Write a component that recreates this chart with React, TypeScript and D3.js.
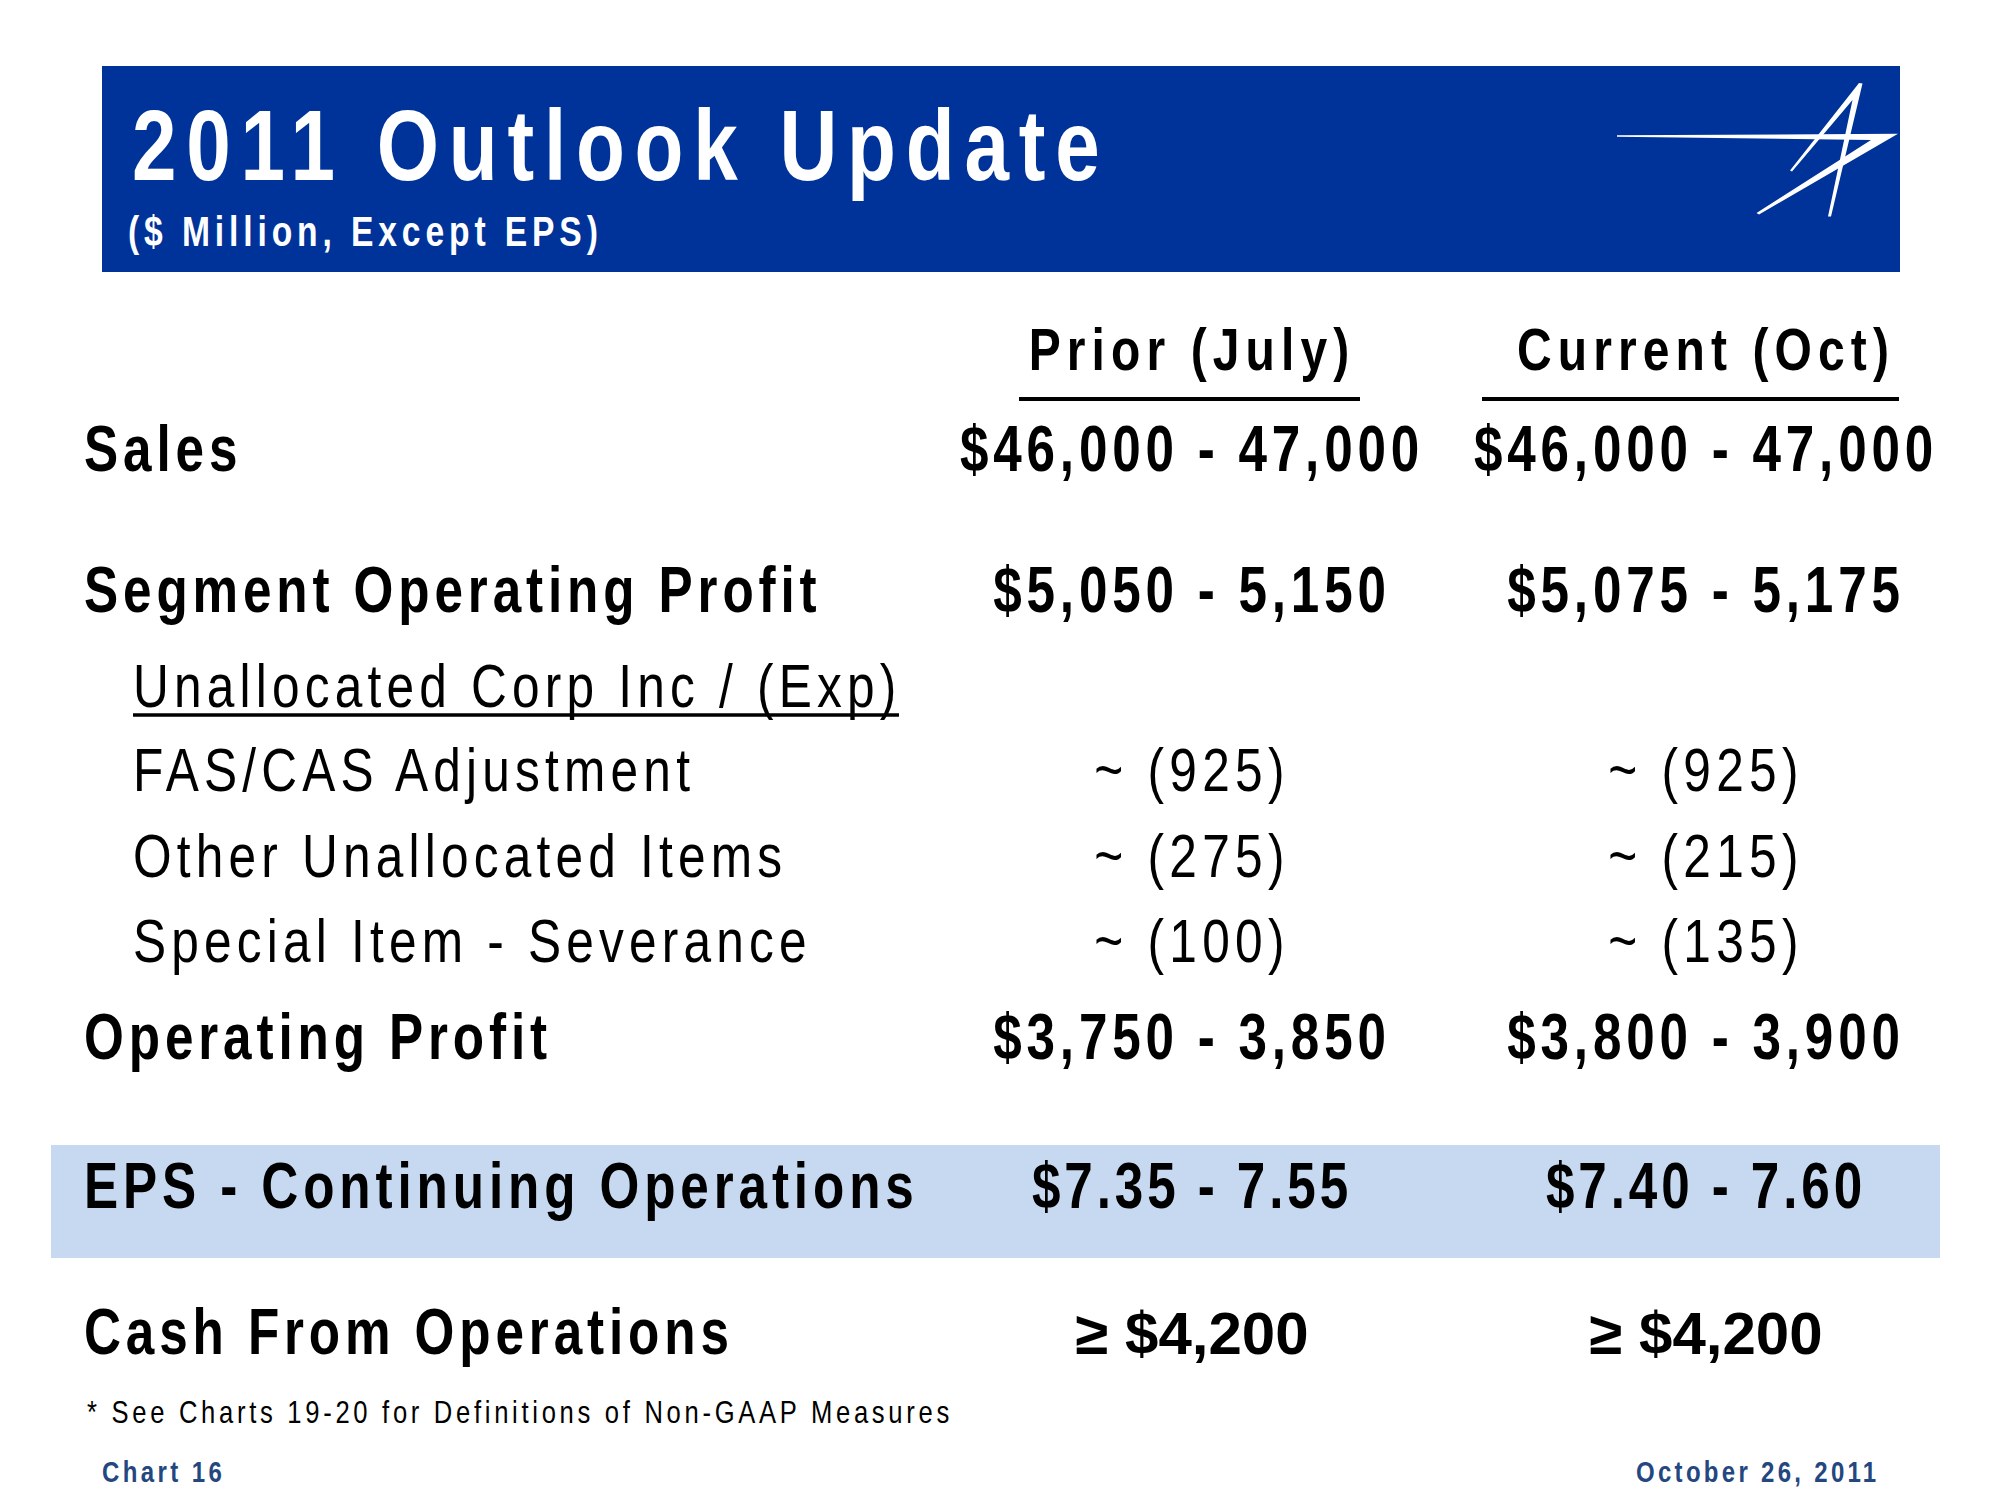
import React from 'react';
import * as d3 from 'd3';

// Slide content
const titleText = '2011 Outlook Update';
const subtitleText = '($ Million, Except EPS)';
const columnHeaders = ['Prior (July)', 'Current (Oct)'];
const rowLabels = [
  'Sales',
  'Segment Operating Profit',
  'Unallocated Corp Inc / (Exp)',
  'FAS/CAS Adjustment',
  'Other Unallocated Items',
  'Special Item - Severance',
  'Operating Profit',
  'EPS - Continuing Operations',
  'Cash From Operations',
];
const rowKinds = ['main', 'main', 'subhead', 'sub', 'sub', 'sub', 'main', 'eps', 'cash'];
const priorValues = ['$46,000 - 47,000', '$5,050 - 5,150', '', '~ (925)', '~ (275)', '~ (100)', '$3,750 - 3,850', '$7.35 - 7.55', '≥ $4,200'];
const currentValues = ['$46,000 - 47,000', '$5,075 - 5,175', '', '~ (925)', '~ (215)', '~ (135)', '$3,800 - 3,900', '$7.40 - 7.60', '≥ $4,200'];
const footnote = '* See Charts 19-20 for Definitions of Non-GAAP Measures';
const chartNumber = 'Chart 16';
const dateText = 'October 26, 2011';

const W = 2000;
const H = 1500;
const FONT = "'Liberation Sans', Arial, Helvetica, sans-serif";
const NARROW = 0.8; // synthetic "narrow" face
const BLUE = '#003399';
const BAND = '#c6d9f1';
const FOOT_BLUE = '#24477f';

// row baselines (layout)
const yRow = d3.scaleOrdinal<string, number>()
  .domain(rowLabels)
  .range([471, 612, 707, 791, 877, 962, 1059, 1208, 1354]);

const xCol = d3.scalePoint<string>()
  .domain(columnHeaders)
  .range([1192, 1706]);

type NTProps = {
  x: number; y: number; text: string; size: number; bold?: boolean;
  spacing?: number; anchor?: string; fill?: string; sx?: number;
};

// text drawn in a horizontally condensed Liberation Sans with tracking
const NarrowText = ({ x, y, text, size, bold = true, spacing = 4, anchor = 'start', fill = '#000', sx = NARROW }: NTProps) => (
  <g transform={`translate(${x},${y}) scale(${sx},1)`}>
    <text
      fontFamily={FONT}
      fontSize={size}
      fontWeight={bold ? 'bold' : 'normal'}
      letterSpacing={spacing / sx}
      textAnchor={anchor}
      fill={fill}
    >
      {text}
    </text>
  </g>
);

const valueStyle = (kind: string) => {
  if (kind === 'sub') return { size: 62, bold: false, spacing: 5.3, sx: NARROW };
  if (kind === 'eps') return { size: 64, bold: true, spacing: 3.9, sx: NARROW };
  if (kind === 'cash') return { size: 60, bold: true, spacing: 0, sx: 1 };
  return { size: 64, bold: true, spacing: 4.8, sx: NARROW };
};

export default function App() {
  const bandY = yRow('EPS - Continuing Operations');
  return (
    <svg width={W} height={H} style={{ position: 'absolute', left: 0, top: 0, background: '#fff' }}>
      <rect width={W} height={H} fill="#fff" />

      {/* header */}
      <rect x={102} y={66} width={1798} height={206} fill={BLUE} />
      <NarrowText x={132} y={180} text={titleText} size={100} spacing={9.8} fill="#fff" />
      <NarrowText x={128} y={246} text={subtitleText} size={42} spacing={4.9} fill="#fff" />

      {/* logo */}
      <g fill="#fff">
        <path d="M1617,135.3 L1898,133.8 L1759,214.5 L1756.5,213 L1871,140 L1617,136.8 Z" />
        <path d="M1790,170.5 L1859,83 L1862.5,83.5 L1831,216.5 L1828,216.5 L1852.5,100 L1792,171.5 Z" />
      </g>

      {/* EPS band */}
      <rect x={51} y={bandY - 63} width={1889} height={113} fill={BAND} />

      {/* column headers */}
      {columnHeaders.map((h) => (
        <NarrowText key={h} x={xCol(h)!} y={370} text={h} size={60} spacing={6.1} anchor="middle" />
      ))}
      <line x1={1019} x2={1360} y1={399} y2={399} stroke="#000" strokeWidth={4} />
      <line x1={1482} x2={1899} y1={399} y2={399} stroke="#000" strokeWidth={4} />

      {/* rows */}
      {rowLabels.map((label, i) => {
        const kind = rowKinds[i];
        const y = yRow(label);
        const isSub = kind === 'sub' || kind === 'subhead';
        const vs = valueStyle(kind);
        return (
          <g key={label}>
            <NarrowText
              x={isSub ? 133 : 84}
              y={y}
              text={label}
              size={isSub ? 62 : 64}
              bold={!isSub}
              spacing={isSub ? 5.2 : 4.9}
            />
            {kind === 'subhead' && (
              <line x1={133} x2={899} y1={y + 8} y2={y + 8} stroke="#000" strokeWidth={3.5} />
            )}
            {[priorValues[i], currentValues[i]].map((v, j) => v ? (
              <NarrowText
                key={j}
                x={xCol(columnHeaders[j])!}
                y={y}
                text={v}
                size={vs.size}
                bold={vs.bold}
                spacing={vs.spacing}
                sx={vs.sx}
                anchor="middle"
              />
            ) : null)}
          </g>
        );
      })}

      {/* footer */}
      <NarrowText x={87} y={1423} text={footnote} size={32} bold={false} spacing={3.7} />
      <NarrowText x={102} y={1482} text={chartNumber} size={30} spacing={3.4} fill={FOOT_BLUE} />
      <NarrowText x={1636} y={1482} text={dateText} size={30} spacing={3.3} fill={FOOT_BLUE} />
    </svg>
  );
}
